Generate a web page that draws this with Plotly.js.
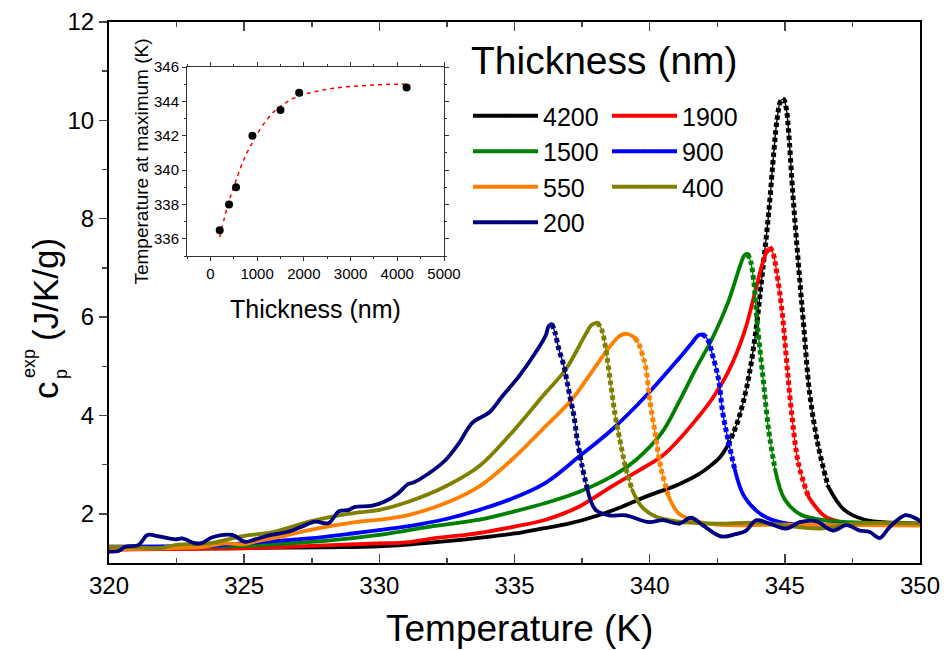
<!DOCTYPE html>
<html>
<head>
<meta charset="utf-8">
<script src="https://cdn.plot.ly/plotly-3.0.1.min.js"></script>
<style>html,body{margin:0;padding:0;background:#fff;}#chart{width:944px;height:650px;}</style>
</head>
<body>
<div id="chart"></div>
<script>
// ---------- DATA ----------
const T4200 = [320, 324, 328, 330, 332, 333, 334, 335, 336, 337, 338, 339, 340, 341, 341.8, 342.3, 342.6, 342.9, 343.1, 343.3, 343.6, 343.9, 344.15, 344.4, 344.6, 344.72, 344.85, 344.95, 345.05, 345.13, 345.3, 345.5, 345.7, 345.93, 346.24, 346.6, 347.2, 347.96, 349, 350];
const C4200 = [1.28, 1.30, 1.32, 1.34, 1.42, 1.47, 1.53, 1.60, 1.70, 1.80, 1.95, 2.15, 2.38, 2.58, 2.80, 3.00, 3.15, 3.40, 3.65, 3.95, 4.60, 5.60, 6.80, 8.10, 9.40, 10.05, 10.40, 10.43, 10.25, 9.84, 8.48, 7.10, 5.80, 4.40, 3.37, 2.56, 2.08, 1.88, 1.82, 1.80];

const T1900 = [320, 323, 325, 327, 329, 330, 331, 332, 333, 333.7, 335, 336.15, 337.4, 338.6, 339.5, 340.45, 341.07, 341.8, 342.3, 342.9, 343.5, 343.9, 344.15, 344.3, 344.43, 344.56, 344.7, 344.9, 345.07, 345.25, 345.5, 345.87, 346.48, 347.2, 348.5, 350];
const C1900 = [1.27, 1.29, 1.30, 1.34, 1.38, 1.40, 1.42, 1.50, 1.56, 1.61, 1.74, 1.88, 2.15, 2.56, 2.85, 3.17, 3.50, 3.97, 4.33, 4.88, 5.69, 6.51, 7.05, 7.30, 7.42, 7.30, 6.91, 6.10, 5.08, 4.06, 3.03, 2.35, 1.95, 1.82, 1.79, 1.78];

const T1500 = [320, 325, 328, 330, 332, 333.7, 335, 336.15, 337.4, 338.6, 339.5, 340.45, 341.07, 341.7, 342.3, 342.9, 343.35, 343.5, 343.62, 343.74, 343.84, 344.0, 344.2, 344.4, 344.64, 345.0, 345.6, 346.6, 348, 350];
const C1500 = [1.30, 1.35, 1.45, 1.57, 1.75, 1.88, 2.05, 2.22, 2.45, 2.76, 3.10, 3.65, 4.26, 4.94, 5.55, 6.30, 7.05, 7.25, 7.29, 7.12, 6.78, 5.76, 4.73, 3.71, 2.90, 2.29, 1.98, 1.86, 1.82, 1.80];

const T900 = [320, 322, 323.7, 325.5, 327.4, 329, 330, 331.1, 332.5, 333.7, 335, 336.15, 337.4, 338.6, 339.85, 341.07, 341.6, 341.8, 341.95, 342.1, 342.2, 342.3, 342.55, 342.7, 342.9, 343.15, 343.5, 344.15, 345, 347, 350];
const C900 = [1.33, 1.34, 1.35, 1.42, 1.50, 1.60, 1.67, 1.75, 1.90, 2.08, 2.33, 2.63, 3.17, 3.71, 4.39, 5.15, 5.50, 5.63, 5.65, 5.58, 5.48, 5.28, 4.73, 4.06, 3.51, 2.90, 2.35, 1.98, 1.81, 1.78, 1.78];

const T550 = [320, 322, 323.5, 324.3, 325, 325.5, 326.5, 327.4, 329.25, 330, 331.1, 332.46, 333.7, 334.9, 336.15, 337.13, 338, 338.6, 338.9, 339.16, 339.45, 339.6, 339.75, 339.85, 340, 340.2, 340.4, 340.7, 341.07, 341.56, 342.5, 345, 350];
const C550 = [1.28, 1.30, 1.33, 1.40, 1.38, 1.45, 1.55, 1.67, 1.84, 1.88, 1.98, 2.22, 2.56, 3.10, 3.78, 4.33, 5.00, 5.45, 5.62, 5.66, 5.58, 5.45, 5.20, 5.00, 4.33, 3.65, 2.97, 2.35, 2.01, 1.88, 1.78, 1.78, 1.76];

const T400 = [320, 321, 321.85, 322.5, 323.7, 324.9, 326.15, 327.4, 328.5, 329.25, 330, 331.1, 332.46, 333.7, 334.9, 336.15, 336.9, 337.6, 337.85, 338.06, 338.22, 338.36, 338.55, 338.73, 338.92, 339.1, 339.35, 339.7, 340.2, 341.07, 342.5, 344, 346.3, 347.5, 350];
const C400 = [1.33, 1.32, 1.30, 1.37, 1.40, 1.54, 1.64, 1.84, 1.97, 2.03, 2.08, 2.25, 2.56, 2.97, 3.65, 4.46, 4.94, 5.62, 5.84, 5.89, 5.75, 5.41, 4.67, 3.99, 3.44, 2.97, 2.49, 2.15, 1.95, 1.84, 1.80, 1.82, 1.70, 1.80, 1.80];

const T200 = [320, 320.37, 320.6, 321.1, 321.42, 321.85, 322.46, 322.7, 323.2, 323.45, 323.8, 324.55, 325.04, 325.4, 326.0, 326.65, 327.13, 327.63, 328.12, 328.5, 328.87, 329.1, 329.7, 330.2, 330.7, 331.07, 331.23, 331.85, 332.46, 332.95, 333.44, 334.06, 334.55, 335.17, 335.78, 336.15, 336.27, 336.38, 336.5, 336.64, 336.83, 336.95, 337.07, 337.2, 337.32, 337.5, 337.7, 338.0, 338.5, 339.12, 339.98, 340.48, 341.1, 341.53, 341.96, 342.64, 343.2, 343.57, 343.94, 344.44, 345.05, 345.55, 346.16, 346.78, 347.28, 347.77, 348.14, 348.51, 348.88, 349.44, 349.87, 350];
const C200 = [1.23, 1.25, 1.33, 1.37, 1.57, 1.54, 1.48, 1.50, 1.40, 1.41, 1.52, 1.57, 1.43, 1.48, 1.57, 1.64, 1.74, 1.84, 1.81, 2.05, 2.08, 2.14, 2.16, 2.25, 2.42, 2.61, 2.63, 2.83, 3.10, 3.44, 3.85, 4.06, 4.39, 4.80, 5.28, 5.62, 5.82, 5.86, 5.68, 5.35, 5.00, 4.67, 4.33, 3.99, 3.51, 2.97, 2.49, 2.08, 1.97, 1.97, 1.83, 1.87, 1.80, 1.92, 1.77, 1.54, 1.59, 1.66, 1.87, 1.80, 1.70, 1.83, 1.85, 1.66, 1.77, 1.66, 1.63, 1.51, 1.73, 1.97, 1.90, 1.85];

// inset: temperature at maximum vs thickness
const insetThickness = [200, 400, 550, 900, 1500, 1900, 4200];
const insetTmax = [336.5, 338.0, 339.0, 342.0, 343.5, 344.5, 344.8];
const fitThickness = [200, 300, 400, 500, 600, 700, 800, 900, 1000, 1200, 1400, 1600, 1800, 2000, 2300, 2600, 3000, 3500, 4000, 4200];
const fitTmax = [336.1, 337.2, 338.2, 339.0, 339.8, 340.5, 341.1, 341.6, 342.1, 342.9, 343.5, 343.9, 344.2, 344.4, 344.6, 344.75, 344.87, 344.95, 345.0, 345.0];

const seriesNames = ['4200', '1900', '1500', '900', '550', '400', '200'];

// ---------- STYLE ----------
const FONT = 'Liberation Sans, Arial, sans-serif';
const styles = {
  '4200': {t: T4200, c: C4200, color: '#000000', legend: 'legend',  dot: [342.9, 346.6]},
  '1900': {t: T1900, c: C1900, color: '#ff0000', legend: 'legend2', dot: [344.3, 345.87]},
  '1500': {t: T1500, c: C1500, color: '#008000', legend: 'legend',  dot: [343.62, 344.64]},
  '900':  {t: T900,  c: C900,  color: '#0000ff', legend: 'legend2', dot: [341.95, 343.15]},
  '550':  {t: T550,  c: C550,  color: '#ff8000', legend: 'legend',  dot: [339.45, 340.7]},
  '400':  {t: T400,  c: C400,  color: '#808000', legend: 'legend2', dot: [338.06, 339.35]},
  '200':  {t: T200,  c: C200,  color: '#000080', legend: 'legend',  dot: [336.38, 337.7]}
};

const traces = [];
seriesNames.forEach(name => {
  const s = styles[name];
  let i0 = 0, i1 = s.t.length - 1;
  s.t.forEach((v, i) => { if (v <= s.dot[0]) i0 = i; });
  for (let i = s.t.length - 1; i >= 0; i--) { if (s.t[i] >= s.dot[1]) i1 = i; }
  const ySolid = s.c.map((v, i) => (i > i0 && i < i1) ? null : v);
  traces.push({
    x: s.t, y: ySolid, name: name, legend: s.legend, type: 'scatter', mode: 'lines+markers',
    line: {color: s.color, width: 3.8, shape: 'spline', smoothing: 1},
    marker: {color: s.color, size: 3.5}, hoverinfo: 'x+y+name'
  });
  const xs = s.t.slice(i0, i1 + 1), ys = s.c.slice(i0, i1 + 1);
  traces.push({
    x: xs, y: ys, type: 'scatter', mode: 'lines', showlegend: false, hoverinfo: 'skip',
    line: {color: s.color, width: 1.4, shape: 'spline', smoothing: 1}
  });
  traces.push({
    x: xs, y: ys, type: 'scatter', mode: 'lines', showlegend: false, hoverinfo: 'skip',
    line: {color: s.color, width: 5, dash: '4.5px,3px', shape: 'spline', smoothing: 1}
  });
});

traces.push({
  x: fitThickness, y: fitTmax, xaxis: 'x2', yaxis: 'y2', type: 'scatter', mode: 'lines',
  line: {color: '#ff0000', width: 1.5, dash: '4px,4px', shape: 'spline'}, showlegend: false
});
traces.push({
  x: insetThickness, y: insetTmax, xaxis: 'x2', yaxis: 'y2', type: 'scatter', mode: 'markers',
  marker: {color: '#000000', size: 8}, showlegend: false
});

const L = 109, R = 24, TOP = 22, B = 87, W = 944, H = 650;
const pw = W - L - R, ph = H - TOP - B;
const px = v => (v - L) / pw;
const py = v => (H - B - v) / ph;

const layout = {
  width: W, height: H,
  margin: {l: L, r: R, t: TOP, b: B, pad: 0},
  paper_bgcolor: '#ffffff', plot_bgcolor: '#ffffff',
  font: {family: FONT, color: '#000000'},
  xaxis: {
    range: [320, 350], tick0: 320, dtick: 5, ticks: 'inside', ticklen: 9, tickwidth: 1.5,
    minor: {dtick: 2.5, ticks: 'inside', ticklen: 5, tickwidth: 1.5, showgrid: false},
    showline: true, linewidth: 2, linecolor: '#000', mirror: 'ticks',
    showgrid: false, zeroline: false, tickfont: {size: 24, family: FONT}
  },
  yaxis: {
    range: [1, 12], tickvals: [2, 4, 6, 8, 10, 12], ticks: 'outside', ticklen: 8, tickwidth: 1.5,
    minor: {tickvals: [3, 5, 7, 9, 11], ticks: 'outside', ticklen: 5, tickwidth: 1.5, showgrid: false},
    showline: true, linewidth: 2, linecolor: '#000', mirror: true,
    showgrid: false, zeroline: false, tickfont: {size: 24, family: FONT}
  },
  xaxis2: {
    domain: [px(187), px(444)], anchor: 'y2', range: [-500, 5000], tick0: 0, dtick: 1000,
    ticks: 'outside', ticklen: 4, tickwidth: 1, tickcolor: '#333',
    minor: {dtick: 500, ticks: 'outside', ticklen: 2, tickcolor: '#333', showgrid: false},
    showline: true, linewidth: 1, linecolor: '#333', mirror: 'ticks',
    showgrid: false, zeroline: false, tickfont: {size: 15, family: FONT},
    title: {text: 'Thickness (nm)', font: {size: 25, family: FONT}, standoff: 19}
  },
  yaxis2: {
    domain: [py(256), py(67)], anchor: 'x2', range: [335, 346], tick0: 336, dtick: 2,
    ticks: 'outside', ticklen: 4, tickwidth: 1, tickcolor: '#333',
    minor: {dtick: 1, ticks: 'outside', ticklen: 2, tickcolor: '#333', showgrid: false},
    showline: true, linewidth: 1, linecolor: '#333', mirror: 'ticks',
    showgrid: false, zeroline: false, tickfont: {size: 15, family: FONT},
    title: {text: 'Temperature at maximum (K)', font: {size: 19, family: FONT}, standoff: 0}
  },
  legend: {
    x: px(468), y: py(93), xanchor: 'left', yanchor: 'top', bgcolor: 'rgba(0,0,0,0)',
    font: {size: 25, family: FONT}, tracegroupgap: 0, itemwidth: 65
  },
  legend2: {
    x: px(607), y: py(93), xanchor: 'left', yanchor: 'top', bgcolor: 'rgba(0,0,0,0)',
    font: {size: 25, family: FONT}, tracegroupgap: 0, itemwidth: 65
  },
  annotations: [
    {text: 'Temperature (K)', xref: 'paper', yref: 'paper', x: px(519), y: py(628),
     xanchor: 'center', yanchor: 'middle', showarrow: false, font: {size: 37, family: FONT}},
    {text: 'Thickness (nm)', xref: 'paper', yref: 'paper', x: px(604), y: py(60),
     xanchor: 'center', yanchor: 'middle', showarrow: false, font: {size: 39, family: FONT}},
    {text: '(J/K/g)', xref: 'paper', yref: 'paper', x: px(45), y: py(290), textangle: -90,
     xanchor: 'center', yanchor: 'middle', showarrow: false, font: {size: 35, family: FONT}},
    {text: 'c', xref: 'paper', yref: 'paper', x: px(45), y: py(390), textangle: -90,
     xanchor: 'center', yanchor: 'middle', showarrow: false, font: {size: 35, family: FONT}},
    {text: 'exp', xref: 'paper', yref: 'paper', x: px(29), y: py(364), textangle: -90,
     xanchor: 'center', yanchor: 'middle', showarrow: false, font: {size: 18, family: FONT}},
    {text: 'p', xref: 'paper', yref: 'paper', x: px(61), y: py(374), textangle: -90,
     xanchor: 'center', yanchor: 'middle', showarrow: false, font: {size: 18, family: FONT}}
  ]
};

Plotly.newPlot('chart', traces, layout, {displayModeBar: false, staticPlot: true});
</script>
</body>
</html>
